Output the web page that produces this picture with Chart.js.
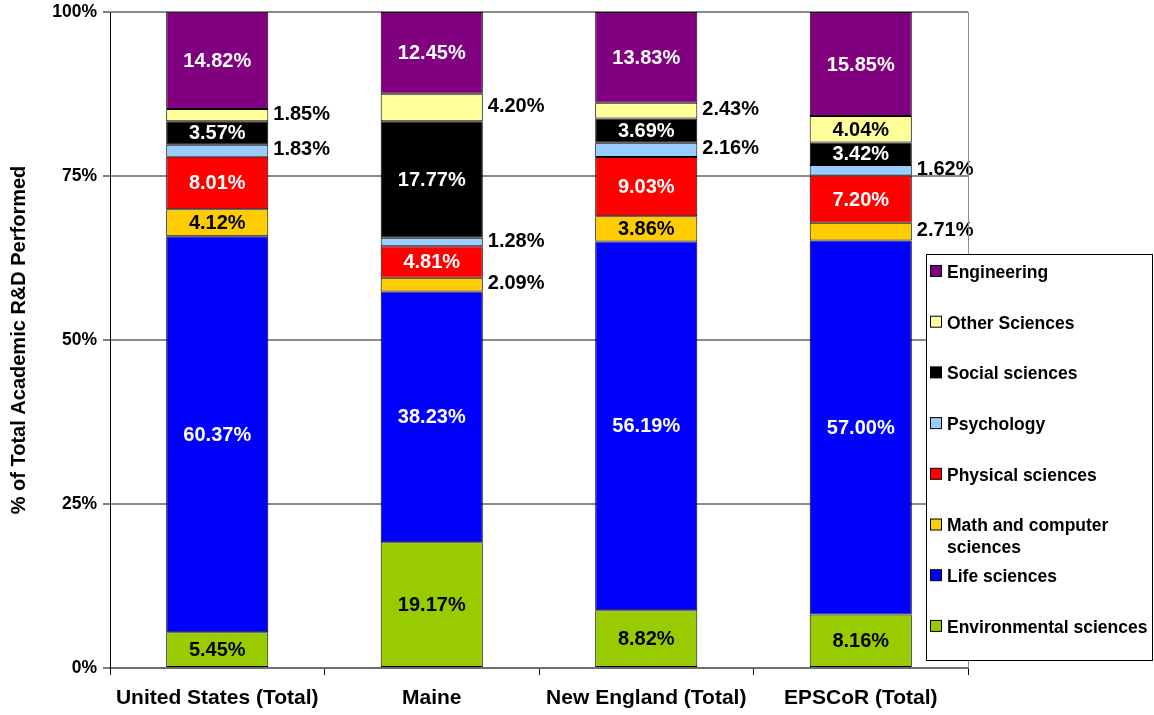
<!DOCTYPE html>
<html>
<head>
<meta charset="utf-8">
<title>Academic R&amp;D by field</title>
<script src="https://cdn.jsdelivr.net/npm/chart.js@4.4.1/dist/chart.umd.min.js"></script>
<style>
  html, body { margin: 0; padding: 0; background: #fff; }
  #wrap { width: 1154px; height: 715px; position: relative; }
</style>
</head>
<body>
<div id="wrap"><canvas id="rdChart"></canvas></div>
<script>
const categories = ["United States (Total)", "Maine", "New England (Total)", "EPSCoR (Total)"];

// share of academic R&D (%), stacked bottom to top
const environmental = [5.45, 19.17, 8.82, 8.16];
const life = [60.37, 38.23, 56.19, 57.00];
const mathComputer = [4.12, 2.09, 3.86, 2.71];
const physical = [8.01, 4.81, 9.03, 7.20];
const psychology = [1.83, 1.28, 2.16, 1.62];
const social = [3.57, 17.77, 3.69, 3.42];
const otherSciences = [1.85, 4.20, 2.43, 4.04];
const engineering = [14.82, 12.45, 13.83, 15.85];

const yTicks = [0, 25, 50, 75, 100];

const FONT = '"Liberation Sans", Arial, Helvetica, sans-serif';

// which small segments get their label beside the bar (category indexes)
const outsideLabels = {
  "Other Sciences": [0, 1, 2],
  "Psychology": [0, 1, 2, 3],
  "Math and computer sciences": [1, 3],
};

function series(label, data, color, textColor) {
  return {
    label: label,
    data: data,
    backgroundColor: color,
    borderColor: "#000",
    borderWidth: 1,
    borderSkipped: false,
    labelColor: textColor,
  };
}

const datasets = [
  series("Environmental sciences", environmental, "#99cc00", "#000"),
  series("Life sciences", life, "#0000ff", "#fff"),
  series("Math and computer sciences", mathComputer, "#ffcc00", "#000"),
  series("Physical sciences", physical, "#ff0000", "#fff"),
  series("Psychology", psychology, "#99ccff", "#000"),
  series("Social sciences", social, "#000000", "#fff"),
  series("Other Sciences", otherSciences, "#ffff99", "#000"),
  series("Engineering", engineering, "#800080", "#fff"),
];

// value labels, inside the segment or to its right
const valueLabels = {
  id: "valueLabels",
  afterDatasetsDraw(chart) {
    const ctx = chart.ctx;
    ctx.save();
    ctx.font = "bold 20px " + FONT;
    ctx.textBaseline = "middle";
    chart.data.datasets.forEach((ds, di) => {
      const meta = chart.getDatasetMeta(di);
      meta.data.forEach((bar, i) => {
        const txt = ds.data[i].toFixed(2) + "%";
        const midY = (bar.y + bar.base) / 2;
        if ((outsideLabels[ds.label] || []).includes(i)) {
          ctx.textAlign = "left";
          ctx.fillStyle = "#000";
          ctx.fillText(txt, bar.x + bar.width / 2 + 5, midY - 1);
        } else {
          ctx.textAlign = "center";
          ctx.fillStyle = ds.labelColor;
          ctx.fillText(txt, bar.x, midY + 1);
        }
      });
    });
    ctx.restore();
  },
};

// plot-area right border plus the boxed legend that overlaps it
const boxLegend = {
  id: "boxLegend",
  afterDraw(chart, args, opts) {
    const ctx = chart.ctx;
    const area = chart.chartArea;
    ctx.save();
    ctx.strokeStyle = "#8c8c8c";
    ctx.lineWidth = 1;
    ctx.beginPath();
    ctx.moveTo(Math.round(area.right) + 0.5, area.top);
    ctx.lineTo(Math.round(area.right) + 0.5, area.bottom);
    ctx.stroke();

    ctx.fillStyle = "#fff";
    ctx.fillRect(opts.left, opts.top, opts.width, opts.height);
    ctx.strokeStyle = "#000";
    ctx.strokeRect(opts.left + 0.5, opts.top + 0.5, opts.width, opts.height);

    ctx.font = "bold 17.5px " + FONT;
    ctx.textBaseline = "middle";
    ctx.textAlign = "left";
    const items = chart.data.datasets.slice().reverse();
    items.forEach((ds, k) => {
      const cy = opts.firstY + k * opts.pitch;
      ctx.fillStyle = ds.backgroundColor;
      ctx.fillRect(opts.left + 4.5, cy - 7.5, 11, 11);
      ctx.strokeStyle = "#000";
      ctx.strokeRect(opts.left + 4.5, cy - 7.5, 11, 11);
      // wrap long names onto a second line
      const words = ds.label.split(" ");
      const lines = [];
      let line = "";
      words.forEach(w => {
        const test = line ? line + " " + w : w;
        if (line && ctx.measureText(test).width > opts.width - 22) {
          lines.push(line);
          line = w;
        } else {
          line = test;
        }
      });
      lines.push(line);
      ctx.fillStyle = "#000";
      lines.forEach((t, j) => ctx.fillText(t, opts.left + 21, cy + j * 22));
    });
    ctx.restore();
  },
};

new Chart(document.getElementById("rdChart"), {
  type: "bar",
  data: { labels: categories, datasets: datasets },
  plugins: [valueLabels, boxLegend],
  options: {
    responsive: true,
    maintainAspectRatio: false,
    animation: false,
    devicePixelRatio: 1,
    layout: { padding: { left: 0, right: 186, top: 12, bottom: 0 } },
    datasets: { bar: { categoryPercentage: 1, barPercentage: 0.476 } },
    plugins: {
      legend: { display: false },
      tooltip: { enabled: false },
      boxLegend: { left: 926, top: 254, width: 226, height: 406, firstY: 273, pitch: 50.7 },
    },
    scales: {
      x: {
        stacked: true,
        afterFit: s => { s.height = 47; },
        ticks: {
          color: "#000",
          font: { family: FONT, size: 21, weight: "bold" },
          padding: 11,
          maxRotation: 0,
          autoSkip: false,
        },
        grid: { offset: true, drawOnChartArea: false, tickLength: 7, tickColor: "#000", color: "#000" },
        border: { color: "#6e6e6e", width: 2 },
      },
      y: {
        stacked: true,
        min: 0,
        max: 100,
        afterFit: s => { s.width = 110; s.paddingTop = 0; s.paddingBottom = 0; },
        afterBuildTicks: s => { s.ticks = yTicks.map(v => ({ value: v })); },
        ticks: {
          callback: v => v + "%",
          color: "#000",
          font: { family: FONT, size: 17.5, weight: "bold" },
          padding: 6,
        },
        grid: { color: "#8c8c8c", lineWidth: 2, tickColor: "#000", tickWidth: 1, tickLength: 7 },
        border: { color: "#000", width: 1 },
        title: {
          display: true,
          text: "% of Total Academic R&D Performed",
          color: "#000",
          font: { family: FONT, size: 20, weight: "bold" },
          padding: { top: 7, bottom: 0 },
        },
      },
    },
  },
});
</script>
</body>
</html>
